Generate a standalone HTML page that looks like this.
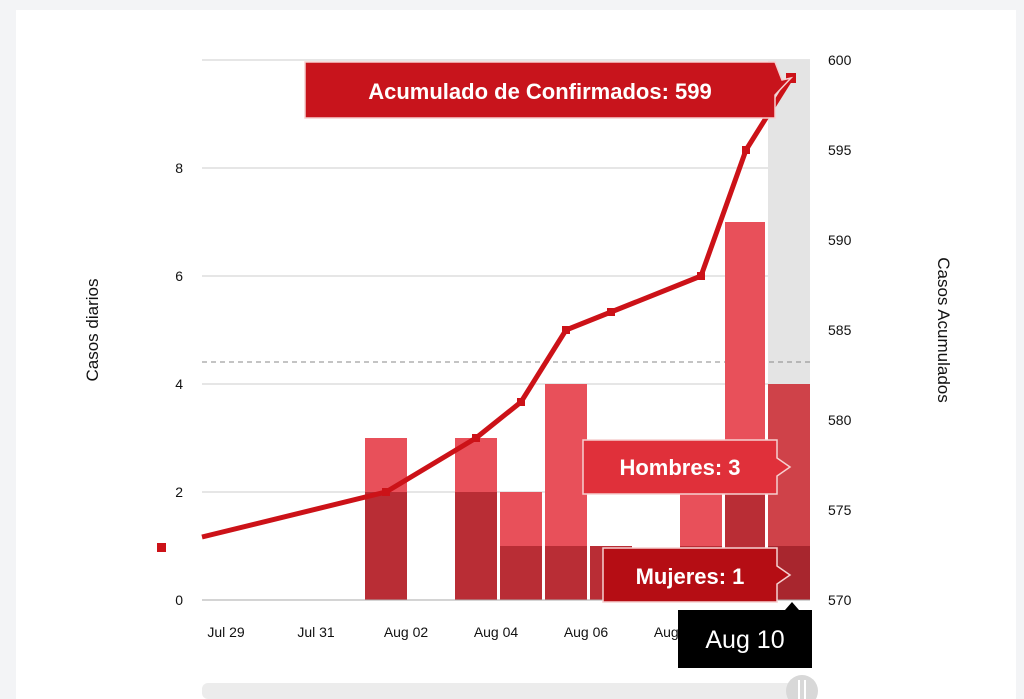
<!DOCTYPE html>
<html><head><style>
body{margin:0;width:1024px;height:699px;overflow:hidden;background:#f3f4f6;font-family:"Liberation Sans",sans-serif}
</style></head><body>
<svg width="1024" height="699" style="position:absolute;left:0;top:0">
<rect x="16" y="10" width="1000" height="689" fill="#fff"/>
<g stroke="#ddd" stroke-width="1.5">
<line x1="202" y1="60" x2="810" y2="60"/><line x1="202" y1="168" x2="810" y2="168"/>
<line x1="202" y1="276" x2="810" y2="276"/><line x1="202" y1="384" x2="810" y2="384"/>
<line x1="202" y1="492" x2="810" y2="492"/>
</g>
<rect x="768" y="60" width="42" height="540" fill="#e4e4e4"/>
<line x1="202" y1="362" x2="810" y2="362" stroke="#888" stroke-dasharray="5,4"/>
<g fill="#e8505a">
<rect x="365" y="438" width="42" height="162"/>
<rect x="455" y="438" width="42" height="162"/>
<rect x="500" y="492" width="42" height="108"/>
<rect x="545" y="384" width="42" height="216"/>
<rect x="680" y="470" width="42" height="130"/>
<rect x="725" y="222" width="40" height="378"/>
</g>
<g fill="#b92d35">
<rect x="365" y="492" width="42" height="108"/>
<rect x="455" y="492" width="42" height="108"/>
<rect x="500" y="546" width="42" height="54"/>
<rect x="545" y="546" width="42" height="54"/>
<rect x="590" y="546" width="42" height="54"/>
<rect x="680" y="546" width="42" height="54"/>
<rect x="725" y="492" width="40" height="108"/>
</g>
<rect x="768" y="384" width="42" height="216" fill="#cf4249"/>
<rect x="768" y="546" width="42" height="54" fill="#a8262e"/>
<line x1="202" y1="600" x2="810" y2="600" stroke="#aaa"/>
<polyline fill="none" stroke="#cc1218" stroke-width="5" stroke-linejoin="round" points="202,537 386,492 476,438 521,402 566,330 611,312 701,276 746,150 791,78"/>
<g fill="#cc1218"><rect x="382" y="488" width="8" height="8"/><rect x="472" y="434" width="8" height="8"/><rect x="517" y="398" width="8" height="8"/><rect x="562" y="326" width="8" height="8"/><rect x="607" y="308" width="8" height="8"/><rect x="697" y="272" width="8" height="8"/><rect x="742" y="146" width="8" height="8"/><rect x="786" y="73" width="10" height="10"/></g>
<rect x="157" y="543" width="9" height="9" fill="#cc1218"/>
<g font-size="14" fill="#111" text-anchor="end">
<text x="183" y="605">0</text><text x="183" y="497">2</text><text x="183" y="389">4</text><text x="183" y="281">6</text><text x="183" y="173">8</text>
</g>
<g font-size="14" fill="#111">
<text x="828" y="605">570</text><text x="828" y="515">575</text><text x="828" y="425">580</text><text x="828" y="335">585</text><text x="828" y="245">590</text><text x="828" y="155">595</text><text x="828" y="65">600</text>
</g>
<g font-size="14" fill="#111" text-anchor="middle">
<text x="226" y="637">Jul 29</text><text x="316" y="637">Jul 31</text><text x="406" y="637">Aug 02</text><text x="496" y="637">Aug 04</text><text x="586" y="637">Aug 06</text><text x="676" y="637">Aug 08</text>
</g>
<text transform="translate(98,330) rotate(-90)" font-size="17" text-anchor="middle" fill="#111">Casos diarios</text>
<text transform="translate(938,330) rotate(90)" font-size="17" text-anchor="middle" fill="#111">Casos Acumulados</text>
<path d="M305,62 H775 L782,80 L791,78 L775,95 V118 H305 Z" fill="#c8141c" stroke="#f6d0d0" stroke-width="1.5"/>
<text x="540" y="99" font-size="22" font-weight="bold" fill="#fff" text-anchor="middle">Acumulado de Confirmados: 599</text>
<path d="M583,440 H777 V458 L790,467 L777,476 V494 H583 Z" fill="#e0303a" stroke="#f6d0d0" stroke-width="1.5"/>
<text x="680" y="475" font-size="22" font-weight="bold" fill="#fff" text-anchor="middle">Hombres: 3</text>
<path d="M603,548 H777 V566 L790,575 L777,584 V602 H603 Z" fill="#b50d14" stroke="#f6d0d0" stroke-width="1.5"/>
<text x="690" y="584" font-size="22" font-weight="bold" fill="#fff" text-anchor="middle">Mujeres: 1</text>
<rect x="678" y="610" width="134" height="58" fill="#000"/>
<path d="M785,610 L792,602 L799,610 Z" fill="#000"/>
<text x="745" y="648" font-size="25" fill="#fff" text-anchor="middle">Aug 10</text>
<rect x="202" y="683" width="608" height="16" rx="6" fill="#ececec"/>
<circle cx="802" cy="691" r="16" fill="#d8d8d8"/>
<line x1="799" y1="680" x2="799" y2="699" stroke="#fff" stroke-width="2"/><line x1="805" y1="680" x2="805" y2="699" stroke="#fff" stroke-width="2"/>
</svg>
</body></html>
